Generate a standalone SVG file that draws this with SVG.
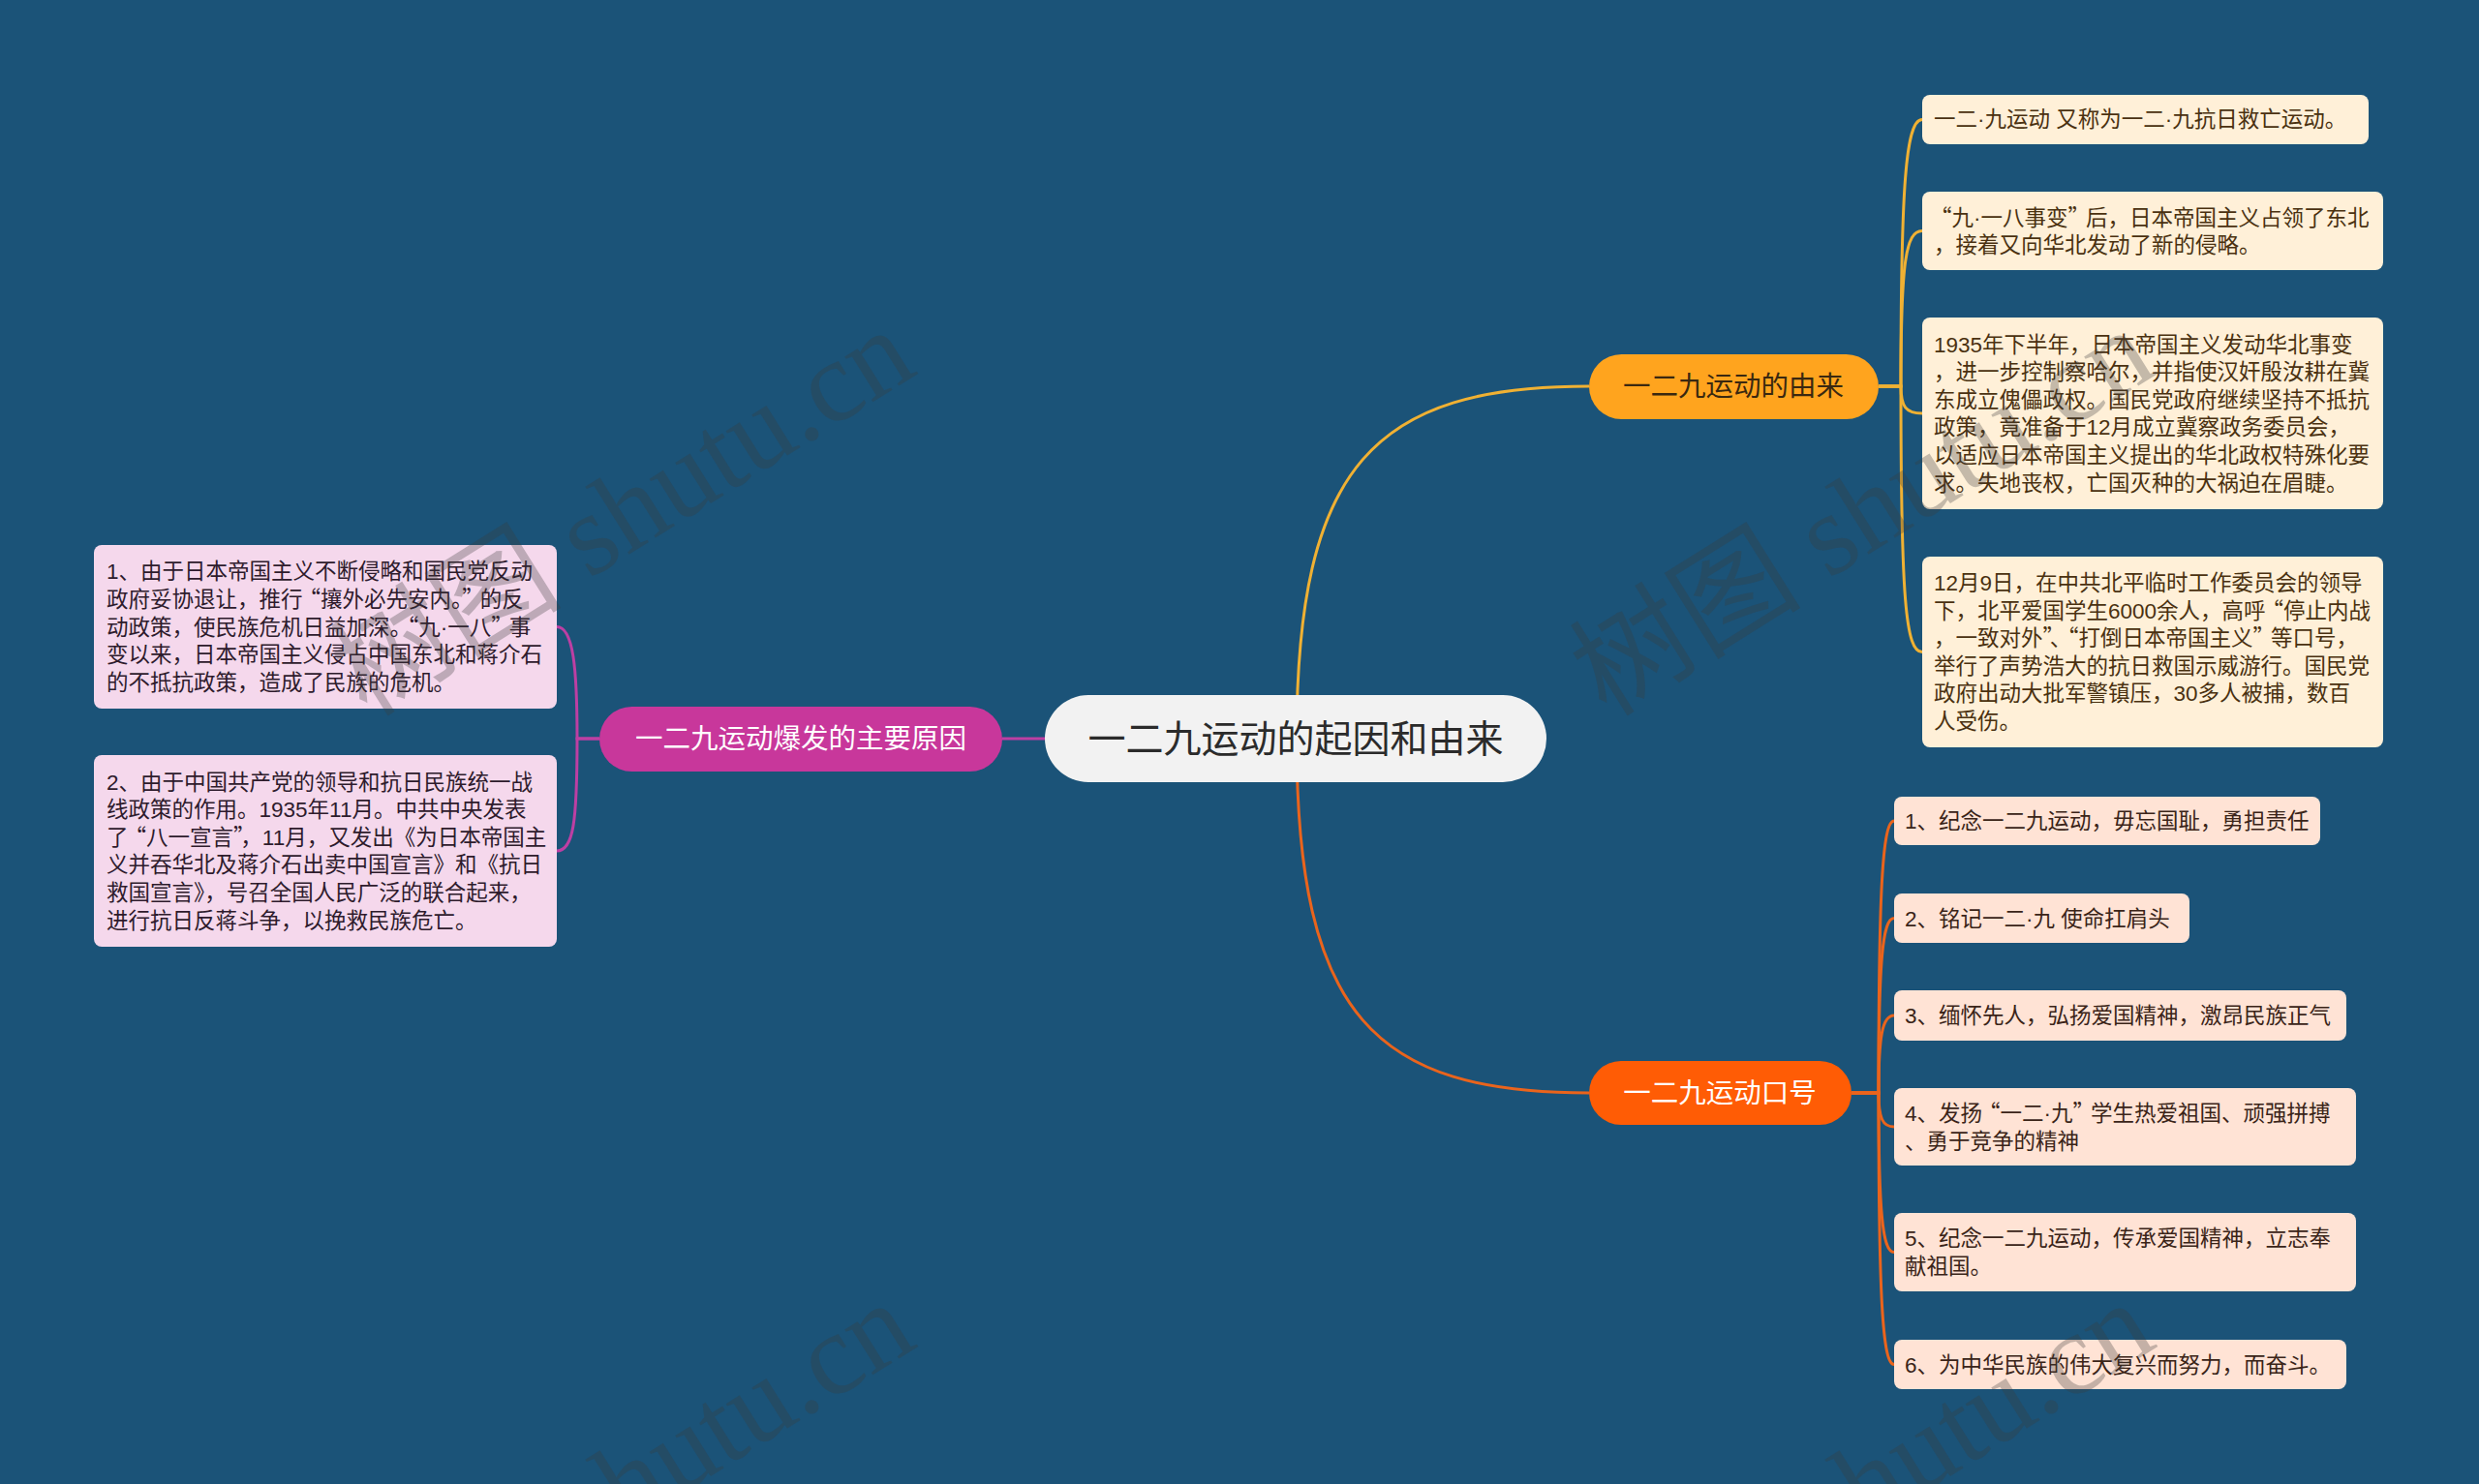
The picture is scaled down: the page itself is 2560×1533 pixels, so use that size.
<svg xmlns="http://www.w3.org/2000/svg" width="2560" height="1533" viewBox="0 0 2560 1533">
<style>
text{font-family:"Liberation Sans","Noto Sans CJK SC",sans-serif;}
.q{font-family:"Noto Sans CJK SC",sans-serif;}
.qc{font-family:"Noto Sans CJK SC",sans-serif;letter-spacing:-4px;}
.leaf{font-size:22.5px;}
.lt{fill:#4a3110;}
.st{fill:#3a2418;}
.pt{fill:#2e1b2c;}
.lbox{fill:#fff0d8;}
.sbox{fill:#ffe3d5;}
.pbox{fill:#f5d8ec;}
.c1{fill:none;stroke:#f0b133;stroke-width:3;}
.c2{fill:none;stroke:#ea641c;stroke-width:3;}
.c3{fill:none;stroke:#bd3fa3;stroke-width:3;}
.wm{font-family:"Liberation Serif","Noto Sans CJK SC",serif;font-size:120px;fill:#3c3c3c;fill-opacity:0.3;}
</style>
<rect width="2560" height="1533" fill="#1b5378"/>
<g id="connectors">
<path class="c1" d="M1339 763 C1339 480 1420 399 1641 399"/>
<path class="c2" d="M1339 763 C1339 1050 1420 1129 1641 1129"/>
<path class="c3" d="M1079 763 H1035"/>
<path class="c1" d="M1940 399 H1963 C1963 192 1968 123.5 1985 123.5"/>
<path class="c1" d="M1940 399 H1963 C1963 270 1968 238.5 1985 238.5"/>
<path class="c1" d="M1940 399 H1963 C1963 420 1968 427 1985 427"/>
<path class="c1" d="M1940 399 H1963 C1963 620 1968 673.5 1985 673.5"/>
<path class="c2" d="M1912 1129 H1940 C1940 918 1944 848 1956 848"/>
<path class="c2" d="M1912 1129 H1940 C1940 993 1944 948.5 1956 948.5"/>
<path class="c2" d="M1912 1129 H1940 C1940 1069 1944 1049 1956 1049"/>
<path class="c2" d="M1912 1129 H1940 C1940 1155 1944 1164 1956 1164"/>
<path class="c2" d="M1912 1129 H1940 C1940 1253 1944 1293.5 1956 1293.5"/>
<path class="c2" d="M1912 1129 H1940 C1940 1340 1944 1409.5 1956 1409.5"/>
<path class="c3" d="M619 763 H596 C596 690 592 647.5 575 647.5"/>
<path class="c3" d="M619 763 H596 C596 850 592 879 575 879"/>
</g>
<g id="root">
<rect x="1079" y="718" width="518" height="90" rx="45" fill="#f2f2f2"/>
<text x="1338" y="777" font-size="39" text-anchor="middle" fill="#2b2b2b">一二九运动的起因和由来</text>
</g>
<g id="branch-origin">
<rect x="1641" y="366" width="299" height="67" rx="33.5" fill="#ffa41e"/>
<text x="1790" y="409" font-size="28.5" text-anchor="middle" fill="#3a2810">一二九运动的由来</text>
</g>
<g id="branch-slogan">
<rect x="1641" y="1096" width="271" height="66" rx="33" fill="#ff5c05"/>
<text x="1776" y="1139" font-size="28.5" text-anchor="middle" fill="#ffffff">一二九运动口号</text>
</g>
<g id="branch-cause">
<rect x="619" y="730" width="416" height="67" rx="33.5" fill="#c8379b"/>
<text x="827" y="773" font-size="28.5" text-anchor="middle" fill="#ffffff">一二九运动爆发的主要原因</text>
</g>
<g id="leaf-o1">
<rect class="lbox" x="1985" y="98" width="461" height="51" rx="8"/>
<text class="leaf lt" x="1997" y="131">一二·九运动 又称为一二·九抗日救亡运动。</text>
</g>
<g id="leaf-o2">
<rect class="lbox" x="1985" y="198" width="476" height="81" rx="8"/>
<text class="leaf lt" x="1997" y="232.5"><tspan class="q" dx="-4">“</tspan>九·一八事变<tspan class="qc">”</tspan>后，日本帝国主义占领了东北</text>
<text class="leaf lt" x="1997" y="261">，接着又向华北发动了新的侵略。</text>
</g>
<g id="leaf-o3">
<rect class="lbox" x="1985" y="328" width="476" height="198" rx="8"/>
<text class="leaf lt" x="1997" y="363.5">1935年下半年，日本帝国主义发动华北事变</text>
<text class="leaf lt" x="1997" y="392.1">，进一步控制察哈尔，并指使汉奸殷汝耕在冀</text>
<text class="leaf lt" x="1997" y="420.7">东成立傀儡政权。国民党政府继续坚持不抵抗</text>
<text class="leaf lt" x="1997" y="449.3">政策，竟准备于12月成立冀察政务委员会，</text>
<text class="leaf lt" x="1997" y="477.9">以适应日本帝国主义提出的华北政权特殊化要</text>
<text class="leaf lt" x="1997" y="506.5">求。失地丧权，亡国灭种的大祸迫在眉睫。</text>
</g>
<g id="leaf-o4">
<rect class="lbox" x="1985" y="575" width="476" height="197" rx="8"/>
<text class="leaf lt" x="1997" y="610">12月9日，在中共北平临时工作委员会的领导</text>
<text class="leaf lt" x="1997" y="638.6">下，北平爱国学生6000余人，高呼<tspan class="q" dx="-4">“</tspan>停止内战</text>
<text class="leaf lt" x="1997" y="667.2">，一致对外<tspan class="qc">”</tspan>、<tspan class="q" dx="-4">“</tspan>打倒日本帝国主义<tspan class="qc">”</tspan>等口号，</text>
<text class="leaf lt" x="1997" y="695.8">举行了声势浩大的抗日救国示威游行。国民党</text>
<text class="leaf lt" x="1997" y="724.4">政府出动大批军警镇压，30多人被捕，数百</text>
<text class="leaf lt" x="1997" y="753">人受伤。</text>
</g>
<g id="leaf-s1">
<rect class="sbox" x="1956" y="823" width="440" height="50" rx="8"/>
<text class="leaf st" x="1967" y="856">1、纪念一二九运动，毋忘国耻，勇担责任</text>
</g>
<g id="leaf-s2">
<rect class="sbox" x="1956" y="923" width="305" height="51" rx="8"/>
<text class="leaf st" x="1967" y="956.5">2、铭记一二·九 使命扛肩头</text>
</g>
<g id="leaf-s3">
<rect class="sbox" x="1956" y="1023" width="467" height="52" rx="8"/>
<text class="leaf st" x="1967" y="1057">3、缅怀先人，弘扬爱国精神，激昂民族正气</text>
</g>
<g id="leaf-s4">
<rect class="sbox" x="1956" y="1124" width="477" height="80" rx="8"/>
<text class="leaf st" x="1967" y="1158">4、发扬<tspan class="q" dx="-4">“</tspan>一二·九<tspan class="qc">”</tspan>学生热爱祖国、顽强拼搏</text>
<text class="leaf st" x="1967" y="1186.5">、勇于竞争的精神</text>
</g>
<g id="leaf-s5">
<rect class="sbox" x="1956" y="1253" width="477" height="81" rx="8"/>
<text class="leaf st" x="1967" y="1287">5、纪念一二九运动，传承爱国精神，立志奉</text>
<text class="leaf st" x="1967" y="1316">献祖国。</text>
</g>
<g id="leaf-s6">
<rect class="sbox" x="1956" y="1384" width="467" height="51" rx="8"/>
<text class="leaf st" x="1967" y="1417.5">6、为中华民族的伟大复兴而努力，而奋斗。</text>
</g>
<g id="leaf-c1">
<rect class="pbox" x="97" y="563" width="478" height="169" rx="8"/>
<text class="leaf pt" x="110" y="598.3">1、由于日本帝国主义不断侵略和国民党反动</text>
<text class="leaf pt" x="110" y="626.9">政府妥协退让，推行<tspan class="q" dx="-4">“</tspan>攘外必先安内。<tspan class="qc">”</tspan>的反</text>
<text class="leaf pt" x="110" y="655.5">动政策，使民族危机日益加深。<tspan class="q" dx="-4">“</tspan>九·一八<tspan class="qc">”</tspan>事</text>
<text class="leaf pt" x="110" y="684.1">变以来，日本帝国主义侵占中国东北和蒋介石</text>
<text class="leaf pt" x="110" y="712.7">的不抵抗政策，造成了民族的危机。</text>
</g>
<g id="leaf-c2">
<rect class="pbox" x="97" y="780" width="478" height="198" rx="8"/>
<text class="leaf pt" x="110" y="815.5">2、由于中国共产党的领导和抗日民族统一战</text>
<text class="leaf pt" x="110" y="844.1">线政策的作用。1935年11月。中共中央发表</text>
<text class="leaf pt" x="110" y="872.7">了<tspan class="q" dx="-4">“</tspan>八一宣言<tspan class="qc">”</tspan>，11月，又发出《为日本帝国主</text>
<text class="leaf pt" x="110" y="901.3">义并吞华北及蒋介石出卖中国宣言》和《抗日</text>
<text class="leaf pt" x="110" y="929.9">救国宣言》，号召全国人民广泛的联合起来，</text>
<text class="leaf pt" x="110" y="958.5">进行抗日反蒋斗争，以挽救民族危亡。</text>
</g>
<g id="watermarks">
<text class="wm" text-anchor="end" transform="translate(950 385) rotate(-32)">树图 shutu.cn</text>
<text class="wm" text-anchor="end" transform="translate(2230 385) rotate(-32)">树图 shutu.cn</text>
<text class="wm" text-anchor="end" transform="translate(950 1390) rotate(-32)">树图 shutu.cn</text>
<text class="wm" text-anchor="end" transform="translate(2230 1390) rotate(-32)">树图 shutu.cn</text>
</g>
</svg>
